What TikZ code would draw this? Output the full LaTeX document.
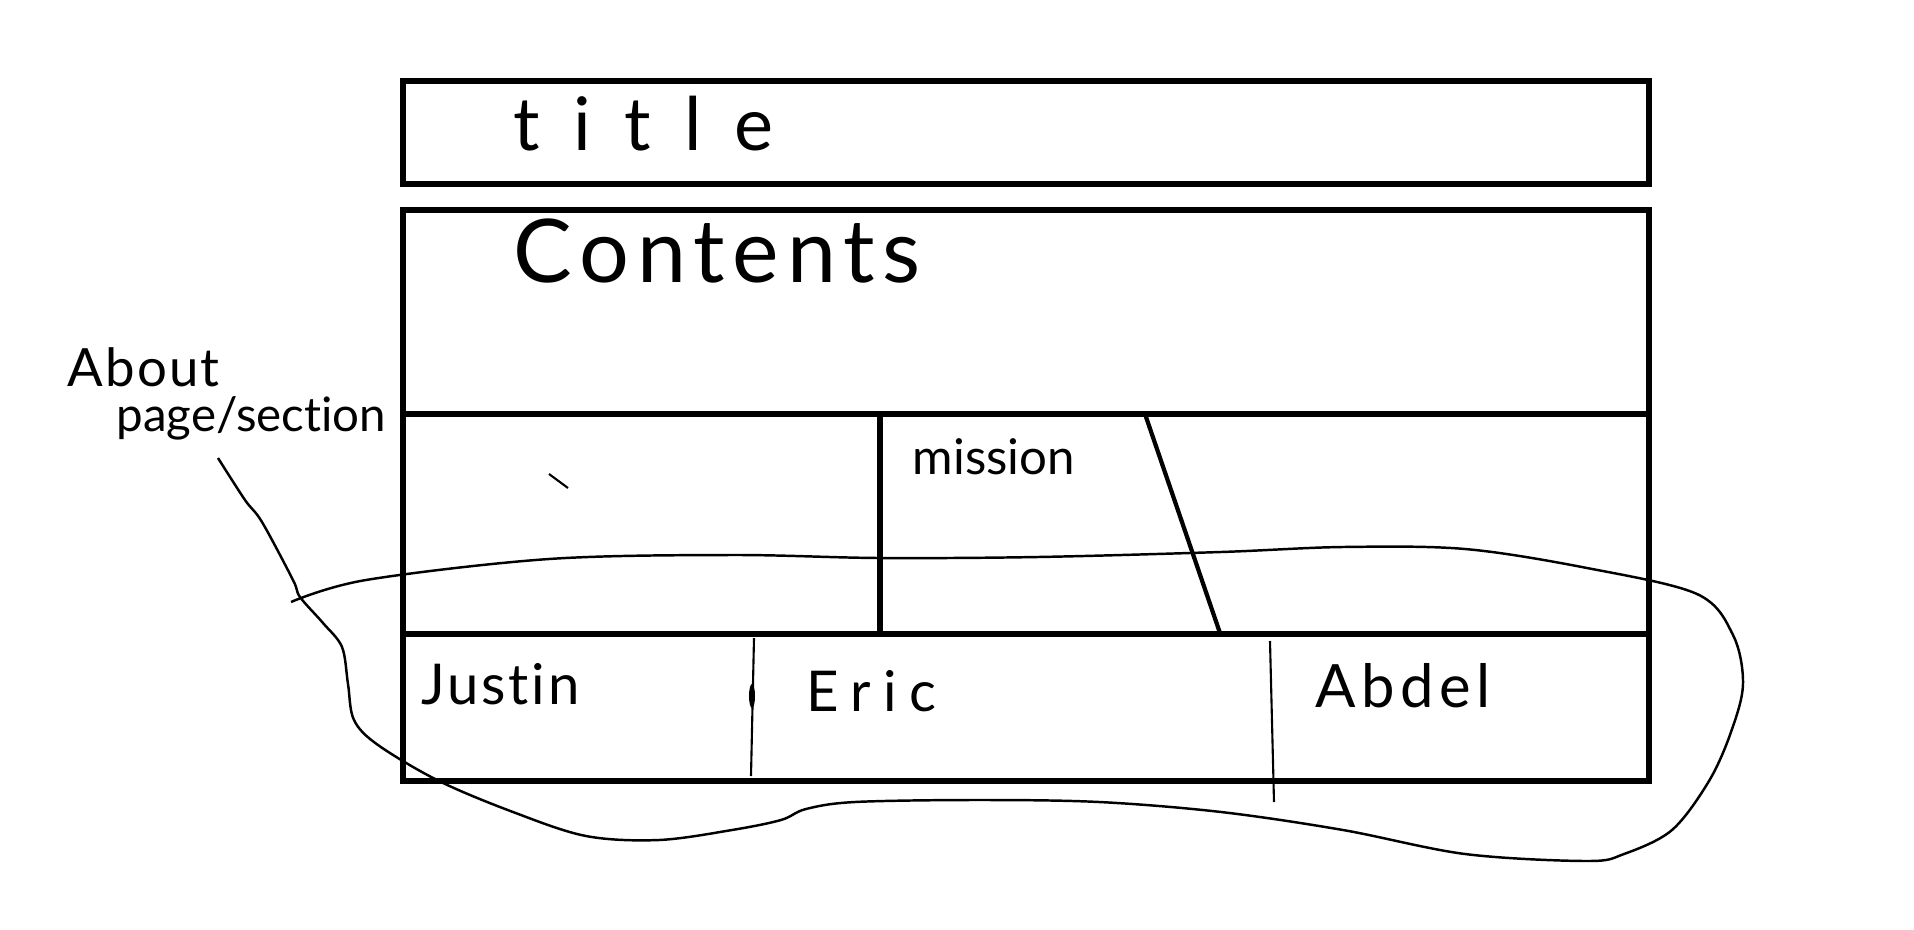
\documentclass[tikz,border=0pt]{standalone}
\usepackage{fontspec}
\setmainfont{Lato}[Ligatures = NoCommon]
\usetikzlibrary{positioning}

\begin{document}
\begin{tikzpicture}[x = 0.01cm, y = -0.01cm,
		frame/.style = {line width = 1.5pt},
		divider/.style = {line width = 0.6pt},
		lasso/.style = {line width = 0.7pt, line join = round},
		hand/.style = {anchor = base west, inner sep = 0pt}]
		\useasboundingbox (0,0) rectangle (1914,930);
		% boxes of the page
		\draw [frame] (403,81) rectangle (1649,184);
		\draw [frame] (403,210) rectangle (1649,781);
		\draw [frame] (403,414) -- (1649,414);
		\draw [frame] (403,634) -- (1649,634);
		\draw [frame] (880,414) -- (880,634);
		\draw [frame, line width = 1.2pt] (1145,414) -- (1221,636);
		\draw [divider] (754,638) -- (751,776);
		\draw [divider] (1270,641) -- (1274,802);
		\fill (752,696) ellipse [x radius = 3, y radius = 12];
		\draw [divider] (549,474) -- (568,488);
		% texts
		\node (title) at (513,150) [hand, font = \fontsize{21}{21}\selectfont\addfontfeature{LetterSpace=45}] {title};
		\node (contents) at (513,282) [hand, font = \fontsize{25}{25}\selectfont\addfontfeature{LetterSpace=9}] {Contents};
		\node (mission) at (912,474) [hand, font = \fontsize{14}{14}\selectfont] {mission};
		\node (justin) at (421,704) [hand, font = \fontsize{16}{16}\selectfont\addfontfeature{LetterSpace=5}] {Justin};
		\node (eric) at (806,711) [hand, font = \fontsize{16}{16}\selectfont\addfontfeature{LetterSpace=22}] {Eric};
		\node (abdel) at (1315,707) [hand, font = \fontsize{17}{17}\selectfont\addfontfeature{LetterSpace=9}] {Abdel};
		\node (about) at (67,386) [hand, font = \fontsize{15}{15}\selectfont\addfontfeature{LetterSpace=4}] {About};
		\node (section) at (116,431) [hand, font = \fontsize{13.5}{13.5}\selectfont] {page/section};
		% lasso round the team row
		\coordinate (tail) at (218,458);
		\draw [lasso] plot [smooth, tension = 0.55] coordinates {
			(291,602) (366,580) (549,559) (732,555) (879,558) (1038,557) (1221,552)
			(1343,547) (1465,549) (1587,568) (1697,594) (1733,635) (1743,684)
			(1731,732) (1709,781) (1672,830) (1624,854) (1587,861) (1465,854)
			(1343,830) (1221,812) (1099,802) (977,800) (855,802) (806,809)
			(781,820) (732,830) (659,840) (586,836) (513,812) (439,781) (378,745)
			(354,720) (348,684) (342,647) (323,623) (300,597) (293,580) (262,522)
			(245,500) (tail)};
	\end{tikzpicture}
\end{document}
